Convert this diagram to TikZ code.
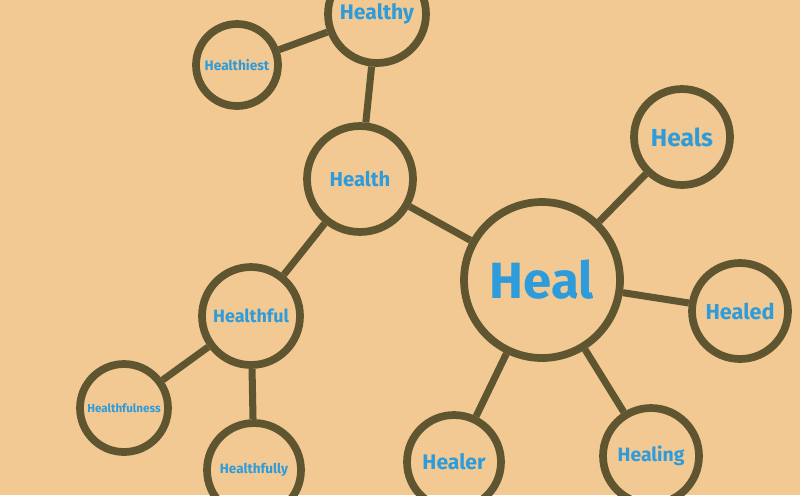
\documentclass[tikz,border=0pt]{standalone}
\usepackage{fontspec}
\setmainfont{Fira Sans}
\usepackage{tikz}
\definecolor{paper}{HTML}{F2C992}
\definecolor{ink}{HTML}{5F5631}
\definecolor{pen}{HTML}{2E9BDB}
\tikzset{
  word/.style={circle,draw=ink,line width=4.4pt,text=pen,font=\bfseries,inner sep=0pt,minimum size=#1},
  word/.default=1.9cm,
  link/.style={draw=ink,line width=4pt}
}

\begin{document}
\begin{tikzpicture}[x=0.02cm,y=-0.02cm]
        \useasboundingbox (0,0) rectangle (800,495);
        \fill[paper] (0,0) rectangle (800,495);
        \clip (0,0) rectangle (800,495);

        \node[word=3.12cm,font=\bfseries\fontsize{29}{30}\selectfont] (heal) at (542,280) {Heal};
        \node[word=2.12cm,font=\bfseries\fontsize{11.5}{12}\selectfont] (health) at (360,179) {Health};
        \node[word=1.96cm,font=\bfseries\fontsize{12}{13}\selectfont] (healthy) at (377,14) {Healthy};
        \node[word=1.64cm,font=\bfseries\fontsize{7.8}{9}\selectfont] (healthiest) at (237,65) {Healthiest};
        \node[word=1.96cm,font=\bfseries\fontsize{10.2}{11}\selectfont] (healthful) at (251,316) {Healthful};
        \node[word=1.76cm,font=\bfseries\fontsize{6.6}{8}\selectfont] (healthfulness) at (124,408) {Healthfulness};
        \node[word=1.88cm,font=\bfseries\fontsize{7.7}{9}\selectfont] (healthfully) at (254,470) {Healthfully};
        \node[word=1.92cm,font=\bfseries\fontsize{14}{15}\selectfont] (heals) at (682,137) {Heals};
        \node[word=1.92cm,font=\bfseries\fontsize{12.3}{13}\selectfont] (healed) at (740,311) {Healed};
        \node[word=1.88cm,font=\bfseries\fontsize{12}{13}\selectfont] (healer) at (454,462) {Healer};
        \node[word=1.92cm,font=\bfseries\fontsize{11}{12}\selectfont] (healing) at (651,456) {Healing};

        % links
        \draw[link] (healthy) -- (healthiest);
        \draw[link] (healthy) -- (health);
        \draw[link] (health) -- (heal);
        \draw[link] (health) -- (healthful);
        \draw[link] (healthful) -- (healthfulness);
        \draw[link] (healthful) -- (healthfully);
        \draw[link] (heal) -- (heals);
        \draw[link] (heal) -- (healed);
        \draw[link] (heal) -- (healer);
        \draw[link] (heal) -- (healing);
    \end{tikzpicture}
\end{document}
